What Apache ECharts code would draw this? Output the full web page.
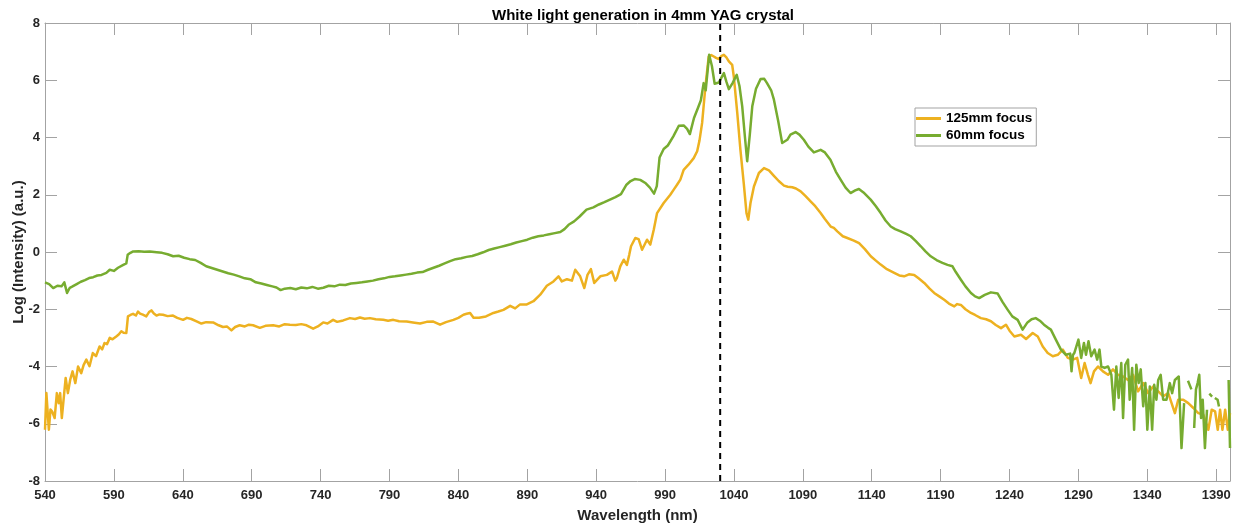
<!DOCTYPE html>
<html>
<head>
<meta charset="utf-8">
<script src="https://cdn.jsdelivr.net/npm/echarts@6/dist/echarts.min.js"></script>
<style>
  html, body { margin: 0; padding: 0; background: #fff; }
  #chart { width: 1234px; height: 527px; }
</style>
</head>
<body>
<div id="chart"></div>
<script>
// Spectra of the white light continuum, log intensity vs wavelength (nm)
const seriesNames = ['125mm focus', '60mm focus'];
const pumpWavelength = 1030;
const xTicks = [540, 590, 640, 690, 740, 790, 840, 890, 940, 990, 1040, 1090, 1140, 1190, 1240, 1290, 1340, 1390];
const yTicks = [-8, -6, -4, -2, 0, 2, 4, 6, 8];

// 125mm focus
const wl125 = [
  540, 541, 542.8, 544, 545.2, 547, 548.6, 550, 551, 552.2, 555, 556.6, 558.3, 560, 562, 564, 566.3, 568, 570, 572.3,
  574.7, 577, 579.6, 581.5, 583.2, 585, 587, 589, 591.7, 593.5, 595.4, 597, 599, 600.2, 602, 603.9, 606, 607.5, 609, 611,
  613.5, 615.5, 617.2, 619, 620.9, 623, 625.6, 629, 632.9, 636, 640.2, 643, 646.2, 650, 653.5, 657, 662, 666, 669.2, 672,
  675.3, 678, 681.3, 685, 688, 691, 695.9, 700, 705.6, 710, 714, 717.7, 722, 726, 729.8, 734.6, 738, 741.9, 745, 749.1,
  752, 756.4, 761.3, 765, 768.6, 772, 775.8, 780, 785.5, 789, 792.8, 797, 802.5, 807, 812.2, 817, 821.8, 826.7, 831, 836.4,
  840, 843.7, 846, 848.5, 851, 855, 860, 865.4, 869, 872.7, 877.6, 881.2, 884.8, 889.7, 894.5, 899.4, 904.2, 909, 912.7, 915.1,
  918.8, 922.4, 924.8, 926.1, 928.4, 931.4, 933.7, 936.2, 938.6, 943, 947.8, 951.5, 953.9, 955.1, 957.5, 960, 962.3, 964, 965.3, 968.4,
  970.8, 973.3, 974.5, 976.9, 979.3, 981.8, 984.2, 989, 993.8, 996.3, 998.7, 1001.1, 1003.5, 1007, 1010.8, 1013.3, 1015, 1016.9, 1019.3, 1021.7,
  1023.5, 1025.4, 1027, 1029, 1031, 1032.7, 1034.5, 1036.3, 1038.7, 1039.9, 1042.4, 1044.7, 1047.1, 1049.1, 1050.4, 1052, 1054.5, 1058.1, 1061.8, 1065.4,
  1069, 1072.5, 1076.3, 1079, 1082.3, 1085, 1088.4, 1092, 1095.6, 1099, 1102.9, 1106, 1110.2, 1112.5, 1115, 1119, 1122.3, 1127, 1130.8, 1135,
  1139.3, 1143, 1146.5, 1151, 1156.3, 1160, 1163.5, 1167, 1170.8, 1174, 1178.1, 1182, 1185.3, 1189, 1192.6, 1196, 1199.9, 1202, 1204.7, 1208,
  1212, 1215, 1219.2, 1223, 1226.5, 1230, 1233.8, 1237.4, 1240, 1243.5, 1248.3, 1252, 1256.8, 1260.5, 1264.1, 1267.7, 1271.4, 1275, 1278.7, 1282.3,
  1285.9, 1289.1, 1292, 1294.5, 1296.9, 1298.8, 1301.3, 1304.2, 1307.8, 1311.5, 1315.1, 1318.7, 1322.4, 1326, 1329.7, 1333.3, 1337, 1340.6, 1344.2, 1347.9,
  1351.5, 1355.2, 1357.6, 1360, 1362.4, 1366.1, 1369.7, 1373.4, 1377, 1380.6, 1384.3, 1386.7, 1389.2, 1391.1, 1392.8, 1394.5, 1396.5, 1398.4, 1400
];
const log125 = [
  -6.21, -4.93, -6.21, -5.50, -5.57, -5.80, -4.93, -5.28, -4.93, -5.80, -4.40, -4.93, -4.46, -4.17, -4.58, -4.00, -4.23, -3.95, -3.76, -3.99,
  -3.53, -3.64, -3.30, -3.40, -3.18, -3.22, -3.00, -3.05, -2.95, -2.88, -2.77, -2.82, -2.83, -2.25, -2.20, -2.16, -2.22, -2.08, -2.15, -2.19,
  -2.25, -2.10, -2.04, -2.15, -2.22, -2.18, -2.19, -2.24, -2.22, -2.30, -2.37, -2.30, -2.34, -2.42, -2.50, -2.45, -2.46, -2.56, -2.62, -2.60,
  -2.74, -2.62, -2.56, -2.60, -2.54, -2.56, -2.65, -2.58, -2.56, -2.60, -2.52, -2.54, -2.55, -2.52, -2.56, -2.68, -2.60, -2.46, -2.50, -2.37,
  -2.44, -2.39, -2.31, -2.34, -2.29, -2.33, -2.31, -2.35, -2.37, -2.40, -2.37, -2.42, -2.43, -2.46, -2.50, -2.44, -2.43, -2.54, -2.45, -2.37,
  -2.30, -2.19, -2.16, -2.13, -2.30, -2.30, -2.25, -2.13, -2.08, -2.02, -1.88, -1.97, -1.83, -1.83, -1.72, -1.49, -1.18, -1.03, -0.85, -1.03,
  -0.95, -1.00, -0.62, -0.60, -0.85, -1.26, -0.80, -0.60, -1.08, -0.85, -0.80, -0.68, -1.00, -0.90, -0.50, -0.27, -0.45, -0.10, 0.20, 0.49,
  0.45, 0.08, 0.10, 0.43, 0.26, 0.78, 1.36, 1.71, 2.00, 2.18, 2.35, 2.53, 2.87, 3.05, 3.28, 3.52, 3.90, 4.51, 5.79, 6.83,
  6.88, 6.83, 6.78, 6.74, 6.85, 6.89, 6.80, 6.66, 6.54, 6.13, 4.86, 3.57, 2.41, 1.36, 1.13, 1.71, 2.29, 2.76, 2.93, 2.85,
  2.66, 2.48, 2.32, 2.28, 2.26, 2.22, 2.12, 1.95, 1.77, 1.60, 1.36, 1.15, 0.89, 0.84, 0.72, 0.55, 0.49, 0.40, 0.31, 0.10,
  -0.15, -0.30, -0.44, -0.60, -0.73, -0.82, -0.85, -0.78, -0.80, -0.92, -1.08, -1.28, -1.43, -1.55, -1.67, -1.80, -1.90, -1.82, -1.85, -2.00,
  -2.13, -2.20, -2.31, -2.35, -2.42, -2.55, -2.66, -2.54, -2.75, -2.95, -2.89, -3.04, -2.83, -2.95, -3.30, -3.53, -3.64, -3.59, -3.41, -3.70,
  -3.76, -3.70, -4.40, -3.88, -4.29, -4.58, -4.17, -4.00, -4.17, -4.29, -4.10, -4.29, -4.35, -4.47, -4.29, -4.87, -4.58, -4.93, -4.70, -4.87,
  -5.04, -4.93, -5.28, -5.63, -5.16, -5.16, -5.28, -5.45, -5.63, -5.68, -6.21, -5.51, -5.57, -6.21, -5.51, -6.21, -5.51, -6.21, -5.63
];

// 60mm focus (null = no signal, line breaks there)
const wl60 = [
  540, 543, 546, 549, 552, 554, 556, 558, 560, 563, 566, 569, 572, 575, 578, 581, 584.5, 587, 590, 593,
  596.5, 599, 600, 602, 604, 608, 612, 616, 621, 625, 629, 633, 637, 641, 645, 649, 653, 657, 661, 665,
  669, 673, 677, 681, 685, 689, 693, 697, 701, 705, 708, 711, 714, 718, 722, 726, 730, 734, 738, 742,
  746, 750, 754, 758, 762, 766, 770, 774, 778, 782, 786, 790, 794, 798, 802, 806, 810, 814, 818, 822,
  826, 830, 834, 838, 842, 846, 850, 854, 858, 862, 866, 870, 874, 878, 882, 886, 890, 894, 898, 902,
  906, 910, 914, 917, 920, 924, 928, 933, 938, 942, 946, 950, 954, 958, 962, 965, 968, 972, 976, 979,
  982, 984, 986, 989, 992, 996, 1000, 1003.5, 1006, 1008, 1011, 1014, 1016, 1018, 1019.5, 1022, 1024, 1026, 1029, 1031,
  1032.7, 1034.5, 1036.3, 1039, 1042, 1044, 1046, 1048, 1049.6, 1051.5, 1053.3, 1056, 1059.3, 1062, 1064, 1067, 1069, 1072, 1075, 1078.7,
  1081, 1084.7, 1087.5, 1090.7, 1094, 1098, 1102.9, 1106, 1110, 1114, 1117.4, 1121, 1124.6, 1128, 1130.7, 1134, 1139.2, 1143, 1146.5, 1150,
  1153.8, 1157, 1161, 1165, 1168.3, 1172, 1175.6, 1179, 1182.8, 1187, 1191.3, 1195, 1198.6, 1201, 1204.7, 1208, 1212, 1215, 1218, 1222,
  1226.5, 1231.4, 1235, 1238.7, 1242, 1245.9, 1249.5, 1253, 1256, 1259, 1262, 1265, 1268, 1270, 1273.6, 1277.3, 1280.9, 1284, 1285, 1286,
  1287, 1290, 1292, 1294, 1295.5, 1297.3, 1299.3, 1301.7, 1303.6, 1305.3, 1306.6, 1309, 1311.5, 1313.9, 1315.8, 1317.5, 1319.2, 1321.1, 1322.4, 1324,
  1326, 1327.2, 1329, 1330.4, 1332, 1333.7, 1335.2, 1337, 1338.6, 1340, 1341.8, 1343.5, 1345, 1346.6, 1347.9, 1349.7, 1351.5, 1353.9, 1356.3, 1358,
  1360, 1362.8, 1364.8, 1366.7, 1368, 1369.5, 1372, 1373, 1374, 1375.3, 1376.5, 1377.7, 1379, 1380.2, 1381.8, 1383.3, 1384, 1385, 1387, 1388,
  1389, 1391, 1392, 1393, 1398.5, 1399, 1400
];
const log60 = [
  -1.06, -1.12, -1.26, -1.18, -1.20, -1.06, -1.43, -1.25, -1.20, -1.12, -1.04, -0.98, -0.91, -0.88, -0.82, -0.80, -0.73, -0.62, -0.66, -0.55,
  -0.46, -0.40, -0.10, -0.03, 0.02, 0.03, 0.01, 0.02, -0.01, -0.03, -0.08, -0.15, -0.13, -0.20, -0.25, -0.28, -0.38, -0.50, -0.56, -0.62,
  -0.68, -0.74, -0.79, -0.85, -0.92, -0.95, -1.06, -1.10, -1.15, -1.20, -1.24, -1.33, -1.28, -1.26, -1.30, -1.24, -1.27, -1.22, -1.28, -1.25,
  -1.18, -1.20, -1.14, -1.15, -1.10, -1.08, -1.06, -1.03, -1.00, -0.95, -0.92, -0.87, -0.85, -0.82, -0.79, -0.76, -0.72, -0.70, -0.62, -0.55,
  -0.48, -0.40, -0.32, -0.25, -0.22, -0.17, -0.14, -0.08, -0.01, 0.07, 0.12, 0.17, 0.22, 0.27, 0.33, 0.38, 0.43, 0.50, 0.55, 0.58,
  0.62, 0.66, 0.70, 0.80, 0.95, 1.07, 1.24, 1.48, 1.56, 1.66, 1.74, 1.83, 1.92, 2.02, 2.35, 2.48, 2.55, 2.52, 2.40, 2.25,
  2.04, 2.30, 3.30, 3.60, 3.72, 4.04, 4.41, 4.42, 4.30, 4.12, 4.68, 5.05, 5.30, 5.90, 5.65, 6.89, 6.50, 5.88, 5.92, 6.10,
  6.25, 5.95, 5.69, 5.90, 6.19, 5.80, 5.09, 4.00, 3.17, 4.10, 5.09, 5.70, 6.04, 6.05, 5.90, 5.65, 5.32, 4.60, 3.81, 3.92,
  4.10, 4.19, 4.10, 3.92, 3.68, 3.48, 3.57, 3.48, 3.22, 2.80, 2.53, 2.25, 2.06, 2.15, 2.20, 2.08, 1.83, 1.60, 1.36, 1.10,
  0.89, 0.80, 0.72, 0.63, 0.55, 0.38, 0.20, 0.02, -0.15, -0.28, -0.38, -0.45, -0.50, -0.70, -0.97, -1.20, -1.43, -1.55, -1.61, -1.50,
  -1.41, -1.45, -1.75, -2.02, -2.25, -2.37, -2.71, -2.46, -2.35, -2.31, -2.40, -2.54, -2.65, -2.71, -3.06, -3.41, -3.59, -3.55, -4.17, -3.60,
  -3.53, -3.06, -3.70, -3.18, -3.59, -3.12, -3.64, -3.41, -3.76, -3.41, -4.00, -4.05, -4.00, -4.29, -5.51, -4.00, -5.10, -3.88, -5.80, -3.94,
  -3.76, -5.16, -4.05, -6.21, -3.94, -4.58, -4.10, -5.39, -4.58, -6.21, -4.70, -6.21, -4.64, -5.16, -4.47, -4.29, -5.16, -5.16, -4.58, -4.93,
  -4.47, -4.35, -6.85, -5.28, null, -4.50, -4.80, null, -6.15, -4.80, -4.58, -4.29, -5.80, -5.16, -6.85, -5.51, null, -4.95, -5.05, null,
  -5.10, -5.16, -5.40, null, null, -4.47, -6.85
];

const pairs = (xs, ys) => xs.map((x, i) => [x, ys[i] === null ? '-' : ys[i]]);

const AXIS_GREY = '#a3a3a3';
const TEXT = '#262626';
const FONT = '"Liberation Sans", Arial, Helvetica, sans-serif';

function xAxisDef(pos, withLabels) {
  return {
    type: 'value', position: pos, min: 540, max: 1400, interval: 50,
    axisLine: { show: true, onZero: false, lineStyle: { color: AXIS_GREY, width: 1 } },
    axisTick: { show: true, inside: true, length: 12, lineStyle: { color: AXIS_GREY, width: 1 } },
    axisLabel: {
      show: withLabels, margin: 8, color: TEXT, fontFamily: FONT, fontWeight: 'bold', fontSize: 13,
      formatter: v => (xTicks.indexOf(v) >= 0 ? String(v) : '')
    },
    splitLine: { show: false },
    name: withLabels ? 'Wavelength (nm)' : '',
    nameLocation: 'middle', nameGap: 27, nameMoveOverlap: false,
    nameTextStyle: { color: TEXT, fontFamily: FONT, fontWeight: 'bold', fontSize: 15 }
  };
}
function yAxisDef(pos, withLabels) {
  return {
    type: 'value', position: pos, min: -8, max: 8, interval: 2,
    axisLine: { show: true, onZero: false, lineStyle: { color: AXIS_GREY, width: 1 } },
    axisTick: { show: true, inside: true, length: 12, lineStyle: { color: AXIS_GREY, width: 1 } },
    axisLabel: {
      show: withLabels, margin: 5, color: TEXT, fontFamily: FONT, fontWeight: 'bold', fontSize: 13,
      formatter: v => (yTicks.indexOf(v) >= 0 ? String(v) : '')
    },
    splitLine: { show: false },
    name: withLabels ? 'Log (Intensity) (a.u.)' : '',
    nameLocation: 'middle', nameGap: 19, nameMoveOverlap: false,
    nameTextStyle: { color: TEXT, fontFamily: FONT, fontWeight: 'bold', fontSize: 15 }
  };
}

const chart = echarts.init(document.getElementById('chart'), null, { renderer: 'canvas' });
chart.setOption({
  animation: false,
  backgroundColor: '#ffffff',
  title: {
    text: 'White light generation in 4mm YAG crystal',
    left: 638, top: 3, textAlign: 'center',
    textStyle: { color: '#000', fontFamily: FONT, fontWeight: 'bold', fontSize: 15 }
  },
  grid: { left: 45, right: 4, top: 23, bottom: 46, containLabel: false, outerBoundsMode: 'none' },
  legend: {
    orient: 'vertical', left: 915, top: 108,
    data: seriesNames, icon: 'rect', itemWidth: 25, itemHeight: 3, itemGap: 0,
    padding: [2, 4, 2, 1],
    backgroundColor: '#ffffff', borderColor: AXIS_GREY, borderWidth: 1, borderRadius: 0,
    textStyle: { color: '#000', fontFamily: FONT, fontWeight: 'bold', fontSize: 13.5, lineHeight: 17 }
  },
  xAxis: [xAxisDef('bottom', true), xAxisDef('top', false)],
  yAxis: [yAxisDef('left', true), yAxisDef('right', false)],
  series: [
    {
      name: seriesNames[0], type: 'line', data: pairs(wl125, log125),
      showSymbol: false, symbol: 'none', connectNulls: false,
      lineStyle: { color: '#EDB120', width: 2.5, join: 'round' }, itemStyle: { color: '#EDB120' },
      z: 2
    },
    {
      name: seriesNames[1], type: 'line', data: pairs(wl60, log60),
      showSymbol: false, symbol: 'none', connectNulls: false,
      lineStyle: { color: '#77AC30', width: 2.5, join: 'round' }, itemStyle: { color: '#77AC30' },
      z: 3
    },
    {
      name: 'pump', type: 'line', data: [[pumpWavelength, -8], [pumpWavelength, 8]],
      showSymbol: false, symbol: 'none', silent: true,
      lineStyle: { color: '#000', width: 2, type: [6, 5] },
      z: 4
    }
  ]
});
</script>
</body>
</html>
